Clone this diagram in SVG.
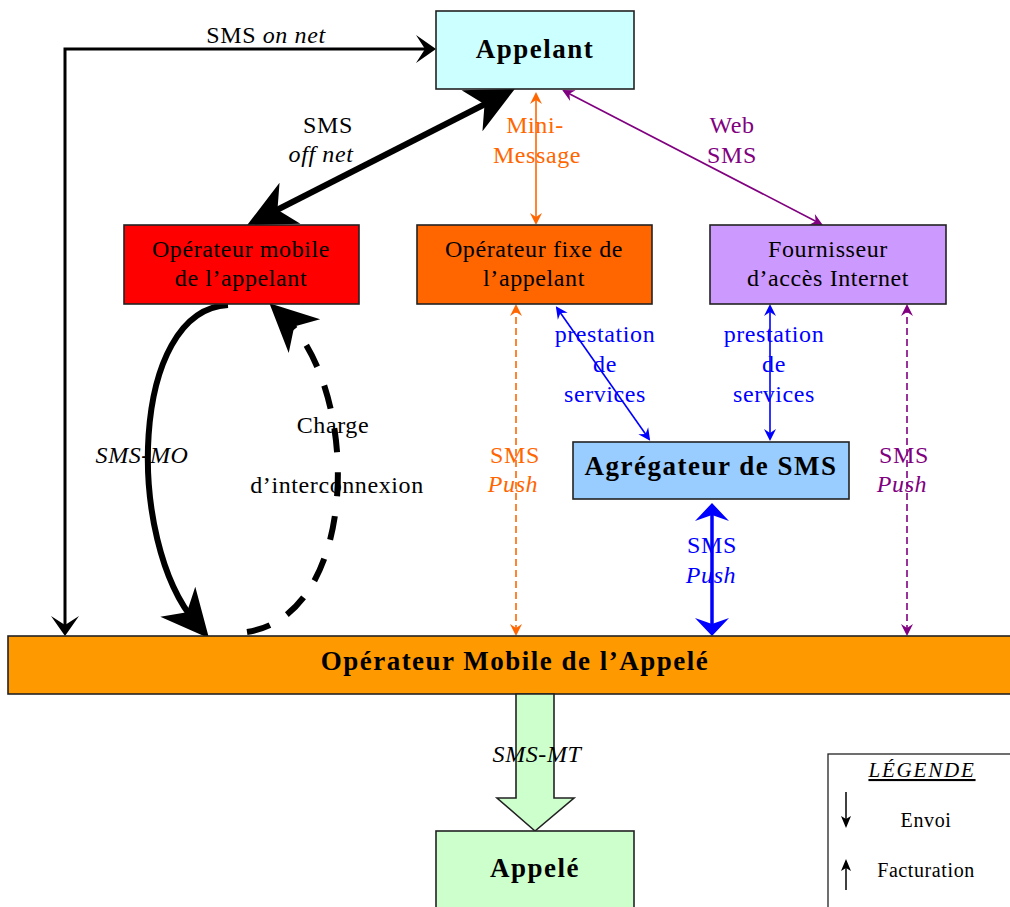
<svg xmlns="http://www.w3.org/2000/svg" width="1010" height="907" viewBox="0 0 1010 907">
<style>
text{font-family:"Liberation Serif","Times New Roman",serif;font-size:24px;letter-spacing:0.6px;text-anchor:middle;fill:#000}
.b{font-weight:bold;font-size:27px;letter-spacing:1.5px}
.i{font-style:italic}
.box{stroke:#222;stroke-width:1.6}
.o{fill:#FF6600}
.p{fill:#800080}
.bl{fill:#0000FF}
.lg{font-size:20px;letter-spacing:0.6px}
.lgt{font-size:21px;letter-spacing:1.8px}
</style>
<defs>
<marker id="blk" markerUnits="userSpaceOnUse" orient="auto-start-reverse" markerWidth="40" markerHeight="40" refX="0" refY="0" overflow="visible"><path d="M4,0 L-16,-14 L-7,0 L-16,14 z" fill="#000"/></marker>
<marker id="big" markerUnits="userSpaceOnUse" orient="auto-start-reverse" markerWidth="80" markerHeight="80" refX="0" refY="0" overflow="visible"><path d="M20,0 L-28,-23 L-14,0 L-28,23 z" fill="#000"/></marker>
<marker id="smO" markerUnits="userSpaceOnUse" orient="auto-start-reverse" markerWidth="20" markerHeight="20" refX="0" refY="0" overflow="visible"><path d="M2,0 L-10,-6 L-6,0 L-10,6 z" fill="#FF6600"/></marker>
<marker id="smP" markerUnits="userSpaceOnUse" orient="auto-start-reverse" markerWidth="20" markerHeight="20" refX="0" refY="0" overflow="visible"><path d="M2,0 L-10,-6 L-6,0 L-10,6 z" fill="#800080"/></marker>
<marker id="smB" markerUnits="userSpaceOnUse" orient="auto-start-reverse" markerWidth="20" markerHeight="20" refX="0" refY="0" overflow="visible"><path d="M2,0 L-10,-6 L-6,0 L-10,6 z" fill="#0000FF"/></marker>
<marker id="bigB" markerUnits="userSpaceOnUse" orient="auto-start-reverse" markerWidth="40" markerHeight="40" refX="0" refY="0" overflow="visible"><path d="M4,0 L-14,-17 L-8,0 L-14,17 z" fill="#0000FF"/></marker>
<marker id="lgA" markerUnits="userSpaceOnUse" orient="auto" markerWidth="20" markerHeight="20" refX="0" refY="0" overflow="visible"><path d="M2,0 L-10,-5 L-7,0 L-10,5 z" fill="#000"/></marker>
</defs>
<rect width="1010" height="907" fill="#fff"/>

<g id="connectors" fill="none">
  <path d="M65,632 L65,49 L432,49" stroke="#000" stroke-width="3" marker-start="url(#blk)" marker-end="url(#blk)"/>
  <path d="M265,216 L497,98" stroke="#000" stroke-width="6" marker-start="url(#big)" marker-end="url(#big)"/>
  <path d="M228,305 C 130,310 125,540 196,623" stroke="#000" stroke-width="6" marker-end="url(#big)"/>
  <path d="M247,632 C 360,615 362,390 284,317" stroke="#000" stroke-width="6" stroke-dasharray="24 20" marker-end="url(#big)"/>
  <path d="M536,94 L536,223" stroke="#FF6600" stroke-width="1.6" marker-start="url(#smO)" marker-end="url(#smO)"/>
  <path d="M564,91 L821,224" stroke="#800080" stroke-width="1.6" marker-start="url(#smP)" marker-end="url(#smP)"/>
  <path d="M516,306 L516,634" stroke="#FF6600" stroke-width="1.6" stroke-dasharray="7 4" marker-start="url(#smO)" marker-end="url(#smO)"/>
  <path d="M907,306 L907,634" stroke="#800080" stroke-width="1.6" stroke-dasharray="7 4" marker-start="url(#smP)" marker-end="url(#smP)"/>
  <path d="M557,308 L649,439" stroke="#0000FF" stroke-width="1.6" marker-start="url(#smB)" marker-end="url(#smB)"/>
  <path d="M770,306 L770,439" stroke="#0000FF" stroke-width="1.6" marker-start="url(#smB)" marker-end="url(#smB)"/>
  <path d="M712,507 L712,632" stroke="#0000FF" stroke-width="3.5" marker-start="url(#bigB)" marker-end="url(#bigB)"/>
  <text x="266" y="43" stroke="none">SMS <tspan class="i">on net</tspan></text>
  <text x="328" y="133" stroke="none">SMS</text>
  <text x="321" y="162" class="i" stroke="none">off net</text>
  <text x="535" y="133" class="o" stroke="none">Mini-</text>
  <text x="537" y="163" class="o" stroke="none">Message</text>
  <text x="732" y="133" class="p" stroke="none">Web</text>
  <text x="732" y="163" class="p" stroke="none">SMS</text>
  <text x="605" y="342" class="bl" stroke="none">prestation</text>
  <text x="605" y="372" class="bl" stroke="none">de</text>
  <text x="605" y="402" class="bl" stroke="none">services</text>
  <text x="774" y="342" class="bl" stroke="none">prestation</text>
  <text x="774" y="372" class="bl" stroke="none">de</text>
  <text x="774" y="402" class="bl" stroke="none">services</text>
  <text x="515" y="463" class="o" stroke="none">SMS</text>
  <text x="513" y="492" class="o i" stroke="none">Push</text>
  <text x="904" y="463" class="p" stroke="none">SMS</text>
  <text x="902" y="492" class="p i" stroke="none">Push</text>
  <text x="712" y="553" class="bl" stroke="none">SMS</text>
  <text x="711" y="583" class="bl i" stroke="none">Push</text>
  <text x="142" y="463" class="i" stroke="none">SMS-MO</text>
  <text x="333" y="433" stroke="none">Charge</text>
  <text x="337" y="493" stroke="none">d’interconnexion</text>
</g>

<g id="appelant"><rect class="box" x="436" y="11" width="198" height="78" fill="#CCFFFF"/><text class="b" x="535" y="58">Appelant</text></g>
<g id="op-mobile-appelant"><rect class="box" x="124" y="225" width="235" height="79" fill="#FF0000"/><text x="241" y="257">Opérateur mobile</text><text x="241" y="286">de l’appelant</text></g>
<g id="op-fixe-appelant"><rect class="box" x="417" y="225" width="235" height="79" fill="#FF6600"/><text x="534" y="257">Opérateur fixe de</text><text x="534" y="286">l’appelant</text></g>
<g id="fai"><rect class="box" x="710" y="225" width="236" height="79" fill="#CC99FF"/><text x="828" y="257">Fournisseur</text><text x="828" y="286">d’accès Internet</text></g>
<g id="agregateur"><rect class="box" x="573" y="442" width="276" height="57" fill="#99CCFF"/><text class="b" x="711" y="475">Agrégateur de SMS</text></g>
<g id="op-mobile-appele"><rect class="box" x="8" y="636" width="1010" height="58" fill="#FF9900"/><text class="b" x="515" y="670">Opérateur Mobile de l’Appelé</text></g>
<g id="sms-mt"><polygon class="box" points="516,694 554,694 554,798 574,798 535,831 497,798 516,798" fill="#CCFFCC"/><text class="i" x="537" y="762">SMS-MT</text></g>
<g id="appele"><rect class="box" x="436" y="831" width="198" height="90" fill="#CCFFCC"/><text class="b" x="535" y="877">Appelé</text></g>
<g id="legende">
  <rect x="828" y="754" width="200" height="200" fill="#fff" stroke="#222" stroke-width="1.3"/>
  <text x="922" y="777" class="i lgt" text-decoration="underline">LÉGENDE</text>
  <line x1="846" y1="792" x2="846" y2="826" stroke="#000" stroke-width="1.5" marker-end="url(#lgA)"/>
  <text x="926" y="827" class="lg">Envoi</text>
  <line x1="846" y1="890" x2="846" y2="861" stroke="#000" stroke-width="1.5" marker-end="url(#lgA)"/>
  <text x="926" y="877" class="lg">Facturation</text>
</g>
</svg>
